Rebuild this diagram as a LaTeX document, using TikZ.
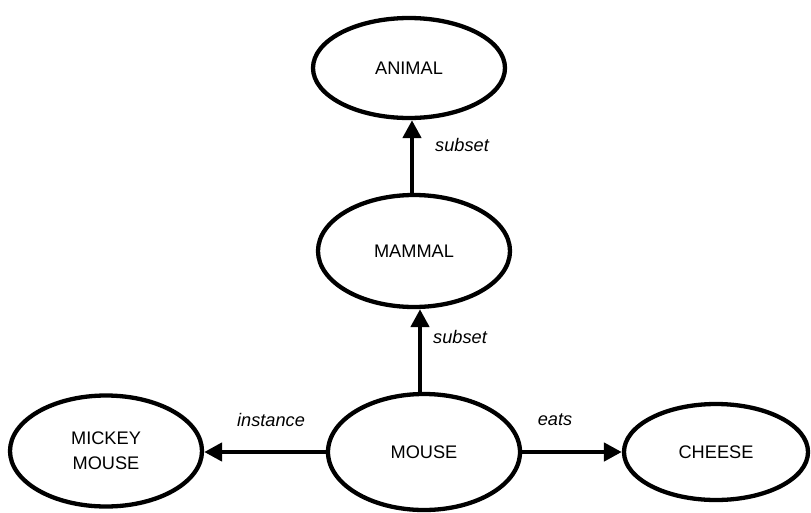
\documentclass[tikz,border=0pt]{standalone}
\usepackage{fontspec}
\setmainfont{Liberation Sans}
\usetikzlibrary{shapes.geometric,arrows.meta}
\begin{document}
\begin{tikzpicture}[x=1pt,y=-1pt,
  concept/.style={ellipse,draw,line width=4.3pt,inner sep=0pt,align=center,
    font=\fontsize{18.2}{25}\selectfont},
  rel/.style={line width=4.5pt,-{Triangle[length=18pt,width=18pt]}},
  lab/.style={font=\fontsize{18.2}{21}\selectfont\itshape}]
\useasboundingbox (0,0) rectangle (811,512);
\node[concept,minimum width=192pt,minimum height=100pt] (animal) at (409,68) {ANIMAL};
\node[concept,minimum width=192pt,minimum height=112pt] (mammal) at (414,251) {MAMMAL};
\node[concept,minimum width=192pt,minimum height=116pt] (mouse) at (424,452) {MOUSE};
\node[concept,minimum width=192pt,minimum height=111pt] (mickey) at (106,451) {MICKEY\\MOUSE};
\node[concept,minimum width=184pt,minimum height=96pt] (cheese) at (716,452) {CHEESE};
\draw[rel] ([xshift=-2pt]mammal.north) -- ([xshift=-2pt]mammal.north |- animal.south);
\draw[rel] ([xshift=-4pt]mouse.north) -- ([xshift=-4pt]mouse.north |- mammal.south);
\draw[rel] (mouse.west) -- (mouse.west -| mickey.east);
\draw[rel] (mouse.east) -- (mouse.east -| cheese.west);
\node[lab] (l1) at (462,145) {subset};
\node[lab] (l2) at (460,337) {subset};
\node[lab] (l3) at (271,420) {instance};
\node[lab] (l4) at (555,420) {eats};
\end{tikzpicture}
\end{document}
